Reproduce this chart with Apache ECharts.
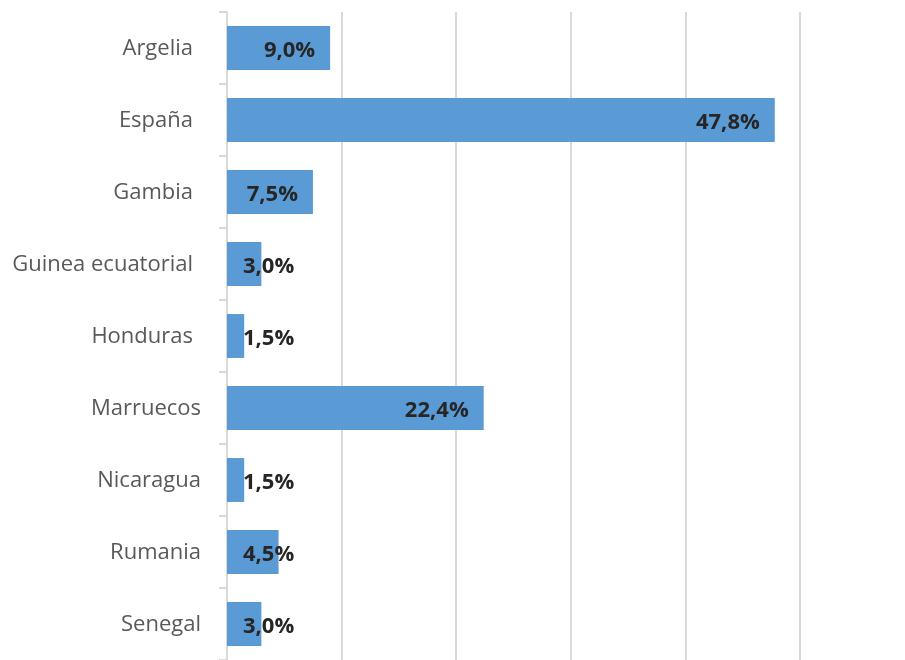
<!DOCTYPE html>
<html>
<head>
<meta charset="utf-8">
<script src="https://cdn.jsdelivr.net/npm/echarts@6/dist/echarts.min.js"></script>
<style>
  html, body { margin: 0; padding: 0; background: #fff; }
  #chart { width: 905px; height: 660px; }
</style>
</head>
<body>
<div id="chart"></div>
<script>
// paises y porcentajes
const categories = ['Argelia', 'España', 'Gambia', 'Guinea ecuatorial', 'Honduras', 'Marruecos', 'Nicaragua', 'Rumania', 'Senegal']
const values = [9.0, 47.8, 7.5, 3.0, 1.5, 22.4, 1.5, 4.5, 3.0]

const chart = echarts.init(document.getElementById('chart'))

// etiquetas: dentro al final, o desde la izquierda si la barra es corta
const seriesData = values.map((v) => {
  const item = { value: v }
  if (v < 7.5) {
    item.label = { position: 'insideLeft', distance: 16 }
  }
  return item
})

chart.setOption({
  animation: false,
  grid: {
    left: 227,
    right: 105,
    top: 12,
    bottom: -4,
    containLabel: false
  },
  xAxis: {
    type: 'value',
    min: 0,
    max: 50,
    interval: 10,
    axisLabel: { show: false },
    axisLine: { show: false },
    axisTick: { show: false },
    splitLine: { lineStyle: { color: '#d9d9d9', width: 2 } }
  },
  yAxis: {
    type: 'category',
    inverse: true,
    data: categories,
    axisLine: { lineStyle: { color: '#d9d9d9', width: 2 } },
    axisTick: { show: true, length: 8, lineStyle: { color: '#d9d9d9', width: 2 } },
    axisLabel: {
      color: '#595959',
      fontSize: 22,
      fontFamily: 'Open Sans',
      margin: 26,
      formatter: (val, idx) => (idx < 5 ? '{a|' + val + '}' : '{b|' + val + '}'),
      rich: {
        a: { fontSize: 22, fontFamily: 'Open Sans', color: '#595959', padding: [2, 8, 0, 0] },
        b: { fontSize: 22, fontFamily: 'Open Sans', color: '#595959', padding: [2, 0, 0, 0] }
      }
    }
  },
  series: [
    {
      type: 'bar',
      data: seriesData,
      barCategoryGap: '39%',
      itemStyle: { color: '#5b9bd5' },
      label: {
        show: true,
        position: 'insideRight',
        distance: 15,
        offset: [0, 3],
        color: '#262626',
        fontWeight: 'bold',
        fontSize: 22,
        fontFamily: 'Open Sans',
        formatter: (p) => p.value.toFixed(1).replace('.', ',') + '%'
      }
    }
  ]
})
</script>
</body>
</html>
